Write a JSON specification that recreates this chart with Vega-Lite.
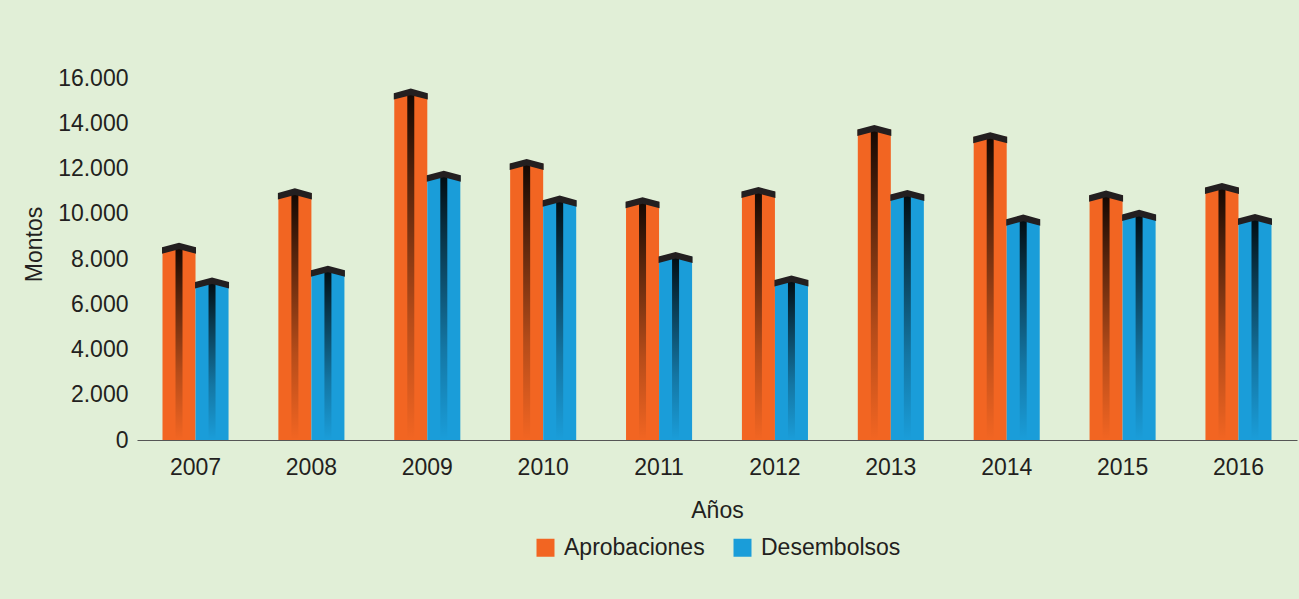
{
  "$schema": "https://vega.github.io/schema/vega-lite/v6.json",
  "autosize": {"type": "none"},
  "width": 1160,
  "height": 362,
  "padding": {"left": 137, "top": 78, "right": 2, "bottom": 159},
  "background": "#e1efd7",
  "config": {
    "view": {"stroke": null},
    "font": "Liberation Sans",
    "axis": {"labelFont": "Liberation Sans", "titleFont": "Liberation Sans", "labelColor": "#231f20", "titleColor": "#231f20", "titleFontWeight": "normal", "labelFontSize": 23, "titleFontSize": 23},
    "legend": {"labelFont": "Liberation Sans", "labelFontSize": 23, "labelColor": "#231f20"}
  },
  "data": {
    "values": [
      {"year": "2007", "serie": "Aprobaciones", "monto": 8520},
      {"year": "2007", "serie": "Desembolsos", "monto": 6980},
      {"year": "2008", "serie": "Aprobaciones", "monto": 10920},
      {"year": "2008", "serie": "Desembolsos", "monto": 7500},
      {"year": "2009", "serie": "Aprobaciones", "monto": 15330},
      {"year": "2009", "serie": "Desembolsos", "monto": 11700},
      {"year": "2010", "serie": "Aprobaciones", "monto": 12220},
      {"year": "2010", "serie": "Desembolsos", "monto": 10600},
      {"year": "2011", "serie": "Aprobaciones", "monto": 10530},
      {"year": "2011", "serie": "Desembolsos", "monto": 8110},
      {"year": "2012", "serie": "Aprobaciones", "monto": 10980},
      {"year": "2012", "serie": "Desembolsos", "monto": 7070},
      {"year": "2013", "serie": "Aprobaciones", "monto": 13720},
      {"year": "2013", "serie": "Desembolsos", "monto": 10850},
      {"year": "2014", "serie": "Aprobaciones", "monto": 13400},
      {"year": "2014", "serie": "Desembolsos", "monto": 9760},
      {"year": "2015", "serie": "Aprobaciones", "monto": 10820},
      {"year": "2015", "serie": "Desembolsos", "monto": 9970},
      {"year": "2016", "serie": "Aprobaciones", "monto": 11160},
      {"year": "2016", "serie": "Desembolsos", "monto": 9790}
    ]
  },
  "encoding": {
    "x": {
      "field": "year", "type": "nominal",
      "scale": {"paddingInner": 0.43, "paddingOuter": 0.22},
      "axis": {"title": "Años", "labelAngle": 0, "ticks": false, "labelPadding": 16, "domainColor": "#555555", "domainWidth": 1.2, "titleY": 70, "titleBaseline": "middle", "labelOverlap": false}
    },
    "xOffset": {"field": "serie", "type": "nominal", "scale": {"paddingInner": 0, "paddingOuter": 0}},
    "y": {
      "field": "monto", "type": "quantitative",
      "scale": {"domain": [0, 16000], "nice": false},
      "axis": {"title": "Montos", "values": [0, 2000, 4000, 6000, 8000, 10000, 12000, 14000, 16000], "format": ",d", "labelExpr": "replace(datum.label, ',', '.')", "labelOverlap": false, "ticks": false, "domain": false, "grid": false, "labelPadding": 9, "titleX": -103, "titleY": 166, "titleAngle": -90, "titleBaseline": "middle", "titleAlign": "center"}
    }
  },
  "layer": [
    {
      "mark": {"type": "bar"},
      "encoding": {
        "color": {
          "field": "serie", "type": "nominal",
          "scale": {"domain": ["Aprobaciones", "Desembolsos"], "range": ["#f26522", "#1a9dd9"]},
          "legend": {"title": null, "orient": "none", "direction": "horizontal", "legendX": 397, "legendY": 458, "symbolType": "square", "symbolSize": 324, "symbolStrokeWidth": 0, "labelOffset": 7, "columnPadding": 26, "symbolOpacity": 1}
        }
      }
    },
    {
      "mark": {
        "type": "bar", "size": 7,
        "color": {
          "gradient": "linear", "x1": 0, "y1": 1, "x2": 0, "y2": 0,
          "stops": [
            {"offset": 0, "color": "rgba(0,0,0,0)"},
            {"offset": 0.35, "color": "rgba(0,0,0,0.25)"},
            {"offset": 0.75, "color": "rgba(0,0,0,0.65)"},
            {"offset": 1, "color": "rgba(0,0,0,0.92)"}
          ]
        }
      }
    },
    {
      "mark": {
        "type": "point", "filled": true, "opacity": 1, "color": "#231f20", "size": 1156,
        "shape": "M-1,0 L0,-0.27 L1,0 L1,0.38 L0,0.12 L-1,0.38 Z"
      }
    }
  ]
}
